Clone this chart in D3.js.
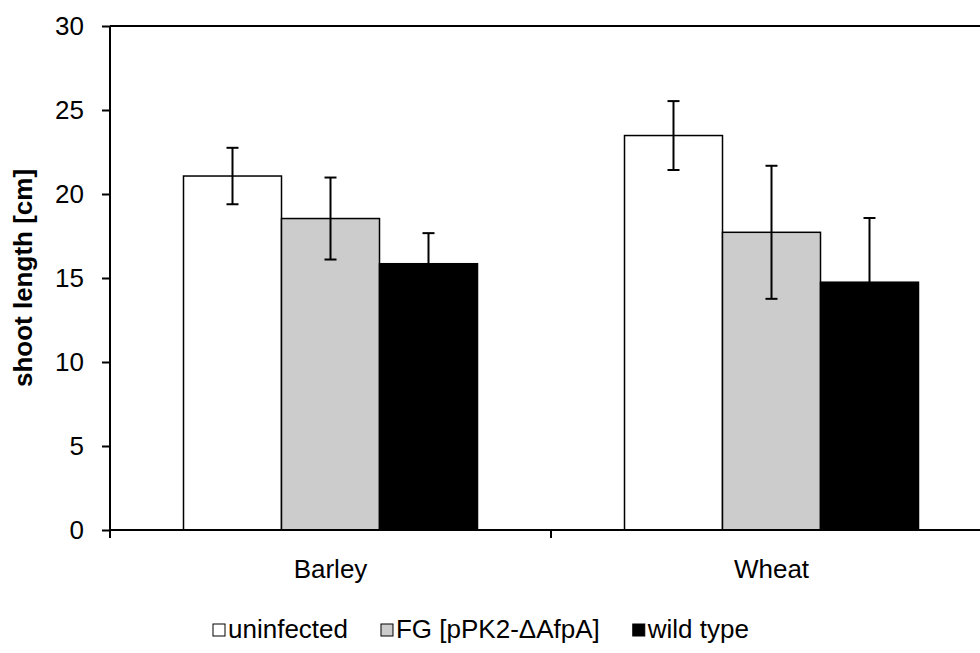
<!DOCTYPE html>
<html>
<head>
<meta charset="utf-8">
<script src="https://cdn.jsdelivr.net/npm/d3@7"></script>
<style>
  body { margin: 0; background: #fff; }
  svg { display: block; font-family: Arial, "Liberation Sans", sans-serif; }
</style>
</head>
<body>
<div id="chart"></div>
<script>
//chart data
const categories = ["Barley", "Wheat"];
const seriesNames = ["uninfected", "FG [pPK2-\u0394AfpA]", "wild type"];
const seriesColors = ["#ffffff", "#cccccc", "#000000"];
const uninfected = [21.07, 23.48];
const fgMutant = [18.54, 17.72];
const wildType = [15.85, 14.75];
const uninfectedErr = [1.68, 2.05];
const fgMutantErr = [2.44, 3.96];
const wildTypeErr = [1.82, 3.82];
const yTicks = [0, 5, 10, 15, 20, 25, 30];

const seriesValues = [uninfected, fgMutant, wildType];
const seriesErrors = [uninfectedErr, fgMutantErr, wildTypeErr];

const width = 980, height = 653;
const margin = { top: 26, right: -12, bottom: 123, left: 110 };
const fontSize = 26;

const svg = d3.select("#chart").append("svg")
  .attr("width", width)
  .attr("height", height);

const plotW = width - margin.left - margin.right;
const plotH = height - margin.top - margin.bottom;

const x0 = d3.scaleBand().domain(categories).range([0, plotW]).paddingInner(0).paddingOuter(0);
//group takes 2/3 of each category band
const x1 = d3.scaleBand().domain(d3.range(seriesNames.length))
  .range([0, x0.bandwidth()]).paddingInner(0).paddingOuter(0.75);
const y = d3.scaleLinear().domain([0, 30]).range([plotH, 0]);

const g = svg.append("g").attr("transform", `translate(${margin.left},${margin.top})`);

//plot border (top line)
g.append("line")
  .attr("x1", 0).attr("x2", plotW)
  .attr("y1", 0).attr("y2", 0)
  .attr("stroke", "#000").attr("stroke-width", 2);

//bars
categories.forEach((cat, ci) => {
  seriesValues.forEach((vals, si) => {
    g.append("rect")
      .attr("x", x0(cat) + x1(si))
      .attr("y", y(vals[ci]))
      .attr("width", x1.bandwidth())
      .attr("height", y(0) - y(vals[ci]))
      .attr("fill", seriesColors[si])
      .attr("stroke", "#000")
      .attr("stroke-width", 1.5);
  });
});

//error bars
categories.forEach((cat, ci) => {
  seriesValues.forEach((vals, si) => {
    const cx = x0(cat) + x1(si) + x1.bandwidth() / 2;
    const hi = vals[ci] + seriesErrors[si][ci];
    const lo = vals[ci] - seriesErrors[si][ci];
    const eg = g.append("g").attr("stroke", "#000").attr("stroke-width", 2);
    eg.append("line").attr("x1", cx).attr("x2", cx).attr("y1", y(hi)).attr("y2", y(lo));
    eg.append("line").attr("x1", cx - 6).attr("x2", cx + 6).attr("y1", y(hi)).attr("y2", y(hi));
    eg.append("line").attr("x1", cx - 6).attr("x2", cx + 6).attr("y1", y(lo)).attr("y2", y(lo));
  });
});

//y axis
const yAxis = g.append("g")
  .call(d3.axisLeft(y).tickValues(yTicks).tickSize(8).tickPadding(18));
yAxis.attr("font-size", fontSize).attr("font-family", null);
yAxis.select(".domain").attr("stroke-width", 2).attr("d", `M0,${plotH}V0`);
yAxis.selectAll(".tick line").attr("stroke-width", 2);
yAxis.selectAll("text").attr("fill", "#000");

//x axis
const xTickPos = [0, x0.bandwidth(), plotW];
const xAxis = g.append("g").attr("transform", `translate(0,${plotH})`);
xAxis.append("line")
  .attr("x1", 0).attr("x2", plotW)
  .attr("stroke", "#000").attr("stroke-width", 2);
xTickPos.forEach(p => {
  xAxis.append("line").attr("x1", p).attr("x2", p).attr("y1", 0).attr("y2", 8)
    .attr("stroke", "#000").attr("stroke-width", 2);
});
categories.forEach(cat => {
  xAxis.append("text")
    .attr("x", x0(cat) + x0.bandwidth() / 2)
    .attr("y", 48)
    .attr("text-anchor", "middle")
    .attr("font-size", fontSize)
    .text(cat);
});

//y label
svg.append("text")
  .attr("transform", `translate(32,${margin.top + plotH / 2}) rotate(-90)`)
  .attr("text-anchor", "middle")
  .attr("font-size", fontSize)
  .attr("font-weight", "bold")
  .text("shoot length [cm]");

//legend, items laid out one after another
const legend = svg.append("g").attr("transform", "translate(213,638)");
let lx = 0;
seriesNames.forEach((name, i) => {
  legend.append("rect")
    .attr("x", lx).attr("y", -14)
    .attr("width", 12).attr("height", 12)
    .attr("fill", seriesColors[i])
    .attr("stroke", "#000").attr("stroke-width", 1);
  const t = legend.append("text")
    .attr("x", lx + 15).attr("y", 0)
    .attr("font-size", fontSize)
    .text(name);
  lx += 15 + t.node().getComputedTextLength() + 33;
});
</script>
</body>
</html>
